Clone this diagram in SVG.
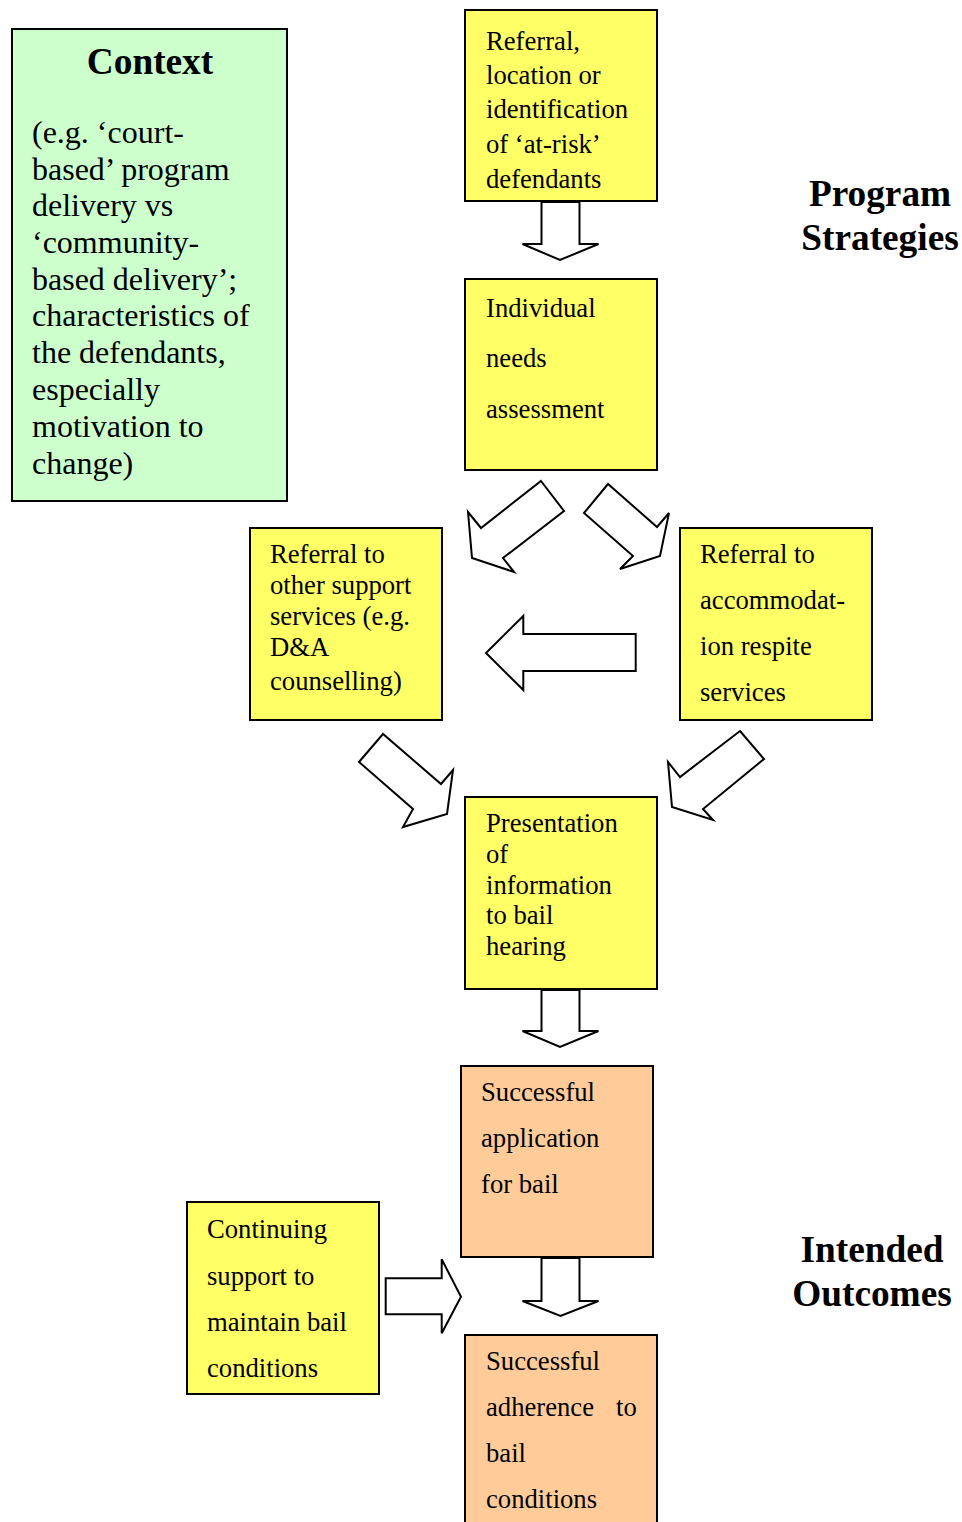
<svg xmlns="http://www.w3.org/2000/svg" width="962" height="1522" viewBox="0 0 962 1522">
<style>
.box{stroke:#000;stroke-width:2}
.y{fill:#FFFF66}
.g{fill:#CCFFCC}
.o{fill:#FFCC99}
.t{font-family:"Liberation Serif","Times New Roman",serif;font-size:26.67px;fill:#000}
.ctx{font-family:"Liberation Serif","Times New Roman",serif;font-size:32px;fill:#000}
.h{font-family:"Liberation Serif","Times New Roman",serif;font-size:37.3px;font-weight:bold;fill:#000;text-anchor:middle}
.arr{fill:#fff;stroke:#000;stroke-width:2;stroke-linejoin:miter}
</style>
<rect width="962" height="1522" fill="#fff"/>

<g id="connectors">
<polygon class="arr" points="541.5,202 541.5,244 522.5,244 560,260 598.5,244 579.5,244 579.5,202"/>
<polygon class="arr" points="541,481 564,511 503,558 514,572 472,558 468,512 481,528"/>
<polygon class="arr" points="608,484 584,513 633,556 620,569 660,556 669,513 657,527"/>
<polygon class="arr" points="523.3,616 523.3,634 635.7,634 635.7,671 523.3,671 523.3,690 486,653"/>
<polygon class="arr" points="383,734 359,762 413,809 403,827 447,814 453,770 441,784"/>
<polygon class="arr" points="740,731 764,759 703,809 713,820 672,807 668,762 680,777"/>
<polygon class="arr" points="541.5,990 541.5,1031 522.5,1031 560,1047 598.5,1031 579.5,1031 579.5,990"/>
<polygon class="arr" points="541.5,1258 541.5,1301 522.5,1301 560.5,1316 598.5,1301 579.5,1301 579.5,1258"/>
<polygon class="arr" points="385.7,1278.3 441.7,1278.3 441.7,1259.3 461,1296.7 441.7,1333.3 441.7,1314.3 385.7,1314.3"/>
</g>

<g id="context">
<rect class="box g" x="12" y="29" width="275" height="472"/>
<text class="h" x="150" y="74">Context</text>
<text class="ctx" x="32" y="143">(e.g. ‘court-</text>
<text class="ctx" x="32" y="180">based’ program</text>
<text class="ctx" x="32" y="216">delivery vs</text>
<text class="ctx" x="32" y="253">‘community-</text>
<text class="ctx" x="32" y="290">based delivery’;</text>
<text class="ctx" x="32" y="326">characteristics of</text>
<text class="ctx" x="32" y="363">the defendants,</text>
<text class="ctx" x="32" y="400">especially</text>
<text class="ctx" x="32" y="437">motivation to</text>
<text class="ctx" x="32" y="474">change)</text>
</g>

<g id="referral">
<rect class="box y" x="465" y="10" width="192" height="191"/>
<text class="t" x="486" y="50">Referral,</text>
<text class="t" x="486" y="84">location or</text>
<text class="t" x="486" y="118">identification</text>
<text class="t" x="486" y="153">of ‘at-risk’</text>
<text class="t" x="486" y="188">defendants</text>
</g>

<g id="label-strategies">
<text class="h" x="880" y="206">Program</text>
<text class="h" x="880" y="250">Strategies</text>
</g>

<g id="needs">
<rect class="box y" x="465" y="279" width="192" height="191"/>
<text class="t" x="486" y="317">Individual</text>
<text class="t" x="486" y="367">needs</text>
<text class="t" x="486" y="418">assessment</text>
</g>

<g id="other-support">
<rect class="box y" x="250" y="528" width="192" height="192"/>
<text class="t" x="270" y="563">Referral to</text>
<text class="t" x="270" y="594">other support</text>
<text class="t" x="270" y="625">services (e.g.</text>
<text class="t" x="270" y="656">D&amp;A</text>
<text class="t" x="270" y="690">counselling)</text>
</g>

<g id="accommodation">
<rect class="box y" x="680" y="528" width="192" height="192"/>
<text class="t" x="700" y="563">Referral to</text>
<text class="t" x="700" y="609">accommodat-</text>
<text class="t" x="700" y="655">ion respite</text>
<text class="t" x="700" y="701">services</text>
</g>

<g id="presentation">
<rect class="box y" x="465" y="797" width="192" height="192"/>
<text class="t" x="486" y="832">Presentation</text>
<text class="t" x="486" y="863">of</text>
<text class="t" x="486" y="894">information</text>
<text class="t" x="486" y="924">to bail</text>
<text class="t" x="486" y="955">hearing</text>
</g>

<g id="bail-application">
<rect class="box o" x="461" y="1066" width="192" height="191"/>
<text class="t" x="481" y="1101">Successful</text>
<text class="t" x="481" y="1147">application</text>
<text class="t" x="481" y="1193">for bail</text>
</g>

<g id="label-outcomes">
<text class="h" x="872" y="1262">Intended</text>
<text class="h" x="872" y="1306">Outcomes</text>
</g>

<g id="continuing-support">
<rect class="box y" x="187" y="1202" width="192" height="192"/>
<text class="t" x="207" y="1238">Continuing</text>
<text class="t" x="207" y="1285">support to</text>
<text class="t" x="207" y="1331">maintain bail</text>
<text class="t" x="207" y="1377">conditions</text>
</g>

<g id="adherence">
<rect class="box o" x="465" y="1335" width="192" height="200"/>
<text class="t" x="486" y="1370">Successful</text>
<text class="t" x="486" y="1416">adherence</text>
<text class="t" x="616" y="1416">to</text>
<text class="t" x="486" y="1462">bail</text>
<text class="t" x="486" y="1508">conditions</text>
</g>
</svg>
